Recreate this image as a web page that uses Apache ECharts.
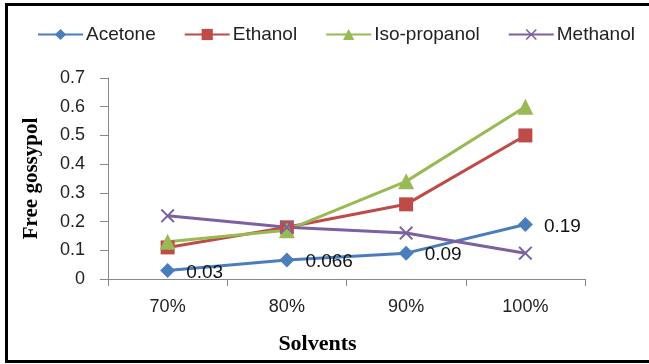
<!DOCTYPE html>
<html>
<head>
<meta charset="UTF-8">
<script src="https://cdn.jsdelivr.net/npm/echarts@6/dist/echarts.min.js"></script>
<style>
    html, body { margin: 0; padding: 0; background: #fff; }
    #frame { position: absolute; left: 5px; top: 3px; width: 700px; height: 354px; border: 3px solid #000; pointer-events: none; }
</style>
</head>
<body>
<div id="chart" style="width:649px;height:364px;"></div>
<div id="frame"></div>
<script>
    var solvents = ['70%', '80%', '90%', '100%'];
    var acetone = [0.03, 0.066, 0.09, 0.19];
    var ethanol = [0.11, 0.18, 0.26, 0.50];
    var isoPropanol = [0.13, 0.17, 0.34, 0.60];
    var methanol = [0.22, 0.18, 0.16, 0.09];

    var crossIcon = 'path://M0,1L1,0L5,4L9,0L10,1L6,5L10,9L9,10L5,6L1,10L0,9L4,5Z';
    var chart = echarts.init(document.getElementById('chart'));

    function lineSeries(name, data, color, symbol, size) {
        return {
            name: name,
            type: 'line',
            data: data,
            symbol: symbol,
            symbolSize: size,
            showAllSymbol: true,
            lineStyle: { color: color, width: 3 },
            itemStyle: { color: color }
        };
    }

    var acetoneSeries = lineSeries('Acetone', acetone, '#4a7ebb', 'diamond', 15);
    acetoneSeries.label = {
        show: true,
        position: 'right',
        distance: 11,
        color: '#111',
        fontSize: 19,
        offset: [0, 2]
    };

    chart.setOption({
        animation: false,
        textStyle: { fontFamily: 'Liberation Sans' },
        legend: {
            top: 20,
            left: 32,
            itemWidth: 45,
            itemHeight: 14,
            itemGap: 28,
            textStyle: { fontSize: 19, color: '#222', padding: [0, 0, 0, -2] },
            data: ['Acetone', 'Ethanol', 'Iso-propanol', 'Methanol']
        },
        grid: { left: 108, right: 64, top: 78, bottom: 85 },
        xAxis: {
            type: 'category',
            data: solvents,
            name: 'Solvents',
            nameLocation: 'middle',
            nameGap: 54,
            nameTextStyle: { fontFamily: 'Liberation Serif', fontWeight: 'bold', fontSize: 22, color: '#000', padding: [0, 58, 0, 0] },
            axisLine: { lineStyle: { color: '#888' } },
            axisTick: { show: true, length: 7, lineStyle: { color: '#888' } },
            axisLabel: { color: '#222', fontSize: 18, margin: 19 }
        },
        yAxis: {
            type: 'value',
            min: 0,
            max: 0.7,
            interval: 0.1,
            name: 'Free gossypol',
            nameLocation: 'middle',
            nameGap: 66,
            nameTextStyle: { fontFamily: 'Liberation Serif', fontWeight: 'bold', fontSize: 21, color: '#000' },
            axisLine: { show: true, lineStyle: { color: '#888' } },
            axisTick: { show: true, length: 8, lineStyle: { color: '#888' } },
            splitLine: { show: false },
            axisLabel: { color: '#222', fontSize: 18, margin: 23 }
        },
        series: [
            acetoneSeries,
            lineSeries('Ethanol', ethanol, '#be4b48', 'rect', 14),
            lineSeries('Iso-propanol', isoPropanol, '#98b954', 'triangle', 16),
            lineSeries('Methanol', methanol, '#7d60a0', crossIcon, 14)
        ]
    });
</script>
</body>
</html>
